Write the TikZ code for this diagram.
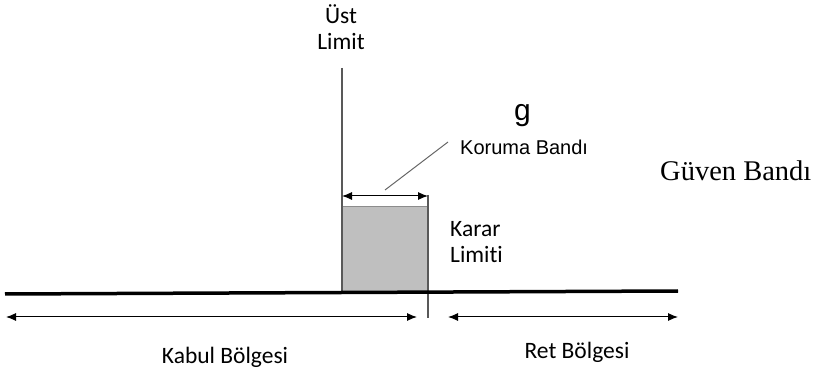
\documentclass[tikz,border=0pt]{standalone}
\usepackage{fontspec}
\setmainfont[Ligatures=NoCommon]{Carlito}
\newfontfamily\arialfont{Liberation Sans}
\newfontfamily\timesfont{Liberation Serif}
\usetikzlibrary{arrows.meta}
\tikzset{
limitline/.style={draw=black!65, line width=1.2pt},
span/.style={{Latex[length=10pt,width=8pt]}-{Latex[length=10pt,width=8pt]}, line width=1pt},
lbl/.style={font=\fontsize{23.5}{26}\selectfont, inner sep=0pt}
}

\begin{document}
\begin{tikzpicture}[x=1pt, y=-1pt]
	\useasboundingbox (0,0) rectangle (815,374);
	% limits and guard band
	\coordinate (ust top) at (342,68);
	\coordinate (ust bot) at (342,292);
	\coordinate (karar top) at (428,195);
	\coordinate (karar bot) at (428,318);
	\filldraw[fill=black!25, draw=black!45] (342,206) rectangle (428,291);
	\draw[limitline] (ust top) -- (ust bot);
	\draw[limitline] (karar top) -- (karar bot);
	\coordinate (band l) at (342,196);
	\coordinate (band r) at (428,196);
	\draw[span] (band l) -- (band r);
	% axis
	\coordinate (axis l) at (5,294);
	\coordinate (axis r) at (678,291);
	\draw[line width=3.5pt] (axis l) -- (axis r);
	% regions
	\coordinate (kabul l) at (6,317);
	\coordinate (kabul r) at (417,317);
	\coordinate (ret l) at (448,317);
	\coordinate (ret r) at (678,317);
	\draw[span] (kabul l) -- (kabul r);
	\draw[span] (ret l) -- (ret r);
	% labels
	\node[lbl, align=center] (ust) at (341,27) {Üst\\Limit};
	\node[lbl, align=left, anchor=west] (karar) at (450,242) {Karar\\Limiti};
	\node[lbl, anchor=base] (kabul) at (225,363) {Kabul Bölgesi};
	\node[lbl, anchor=base] (ret) at (577,359) {Ret Bölgesi};
	\node[inner sep=0pt, anchor=base west, font=\arialfont\fontsize{30}{30}\selectfont] (g) at (514,121) {g};
	\node[inner sep=0pt, anchor=base west, font=\arialfont\fontsize{20}{20}\selectfont] (koruma) at (460,155) {Koruma Bandı};
	\node[inner sep=0pt, anchor=base west, font=\timesfont\fontsize{28.5}{30}\selectfont] (guven) at (660,181) {Güven Bandı};
	\coordinate (leader a) at (385,190);
	\coordinate (leader b) at (448,142);
	\draw[draw=black!60, line width=1pt] (leader a) -- (leader b);
\end{tikzpicture}
\end{document}
